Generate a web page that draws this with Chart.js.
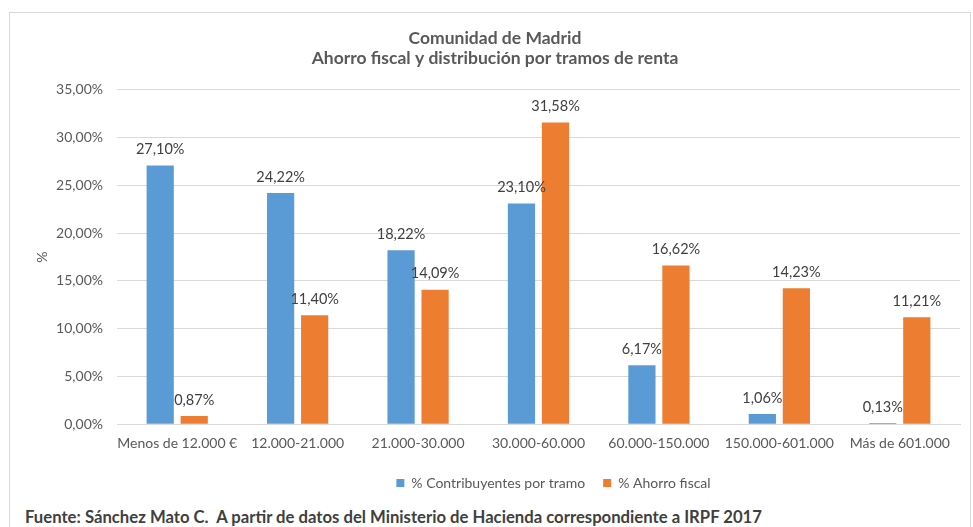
<!DOCTYPE html>
<html>
<head>
<meta charset="utf-8">
<script src="https://cdn.jsdelivr.net/npm/chart.js@4"></script>
<style>
  body { margin: 0; background: #fff; }
  #wrap { position: relative; width: 973px; height: 527px; overflow: hidden; }
  #marco { position: absolute; left: 9px; top: 12px; width: 962px; height: 530px; border: 1px solid #d9d9d9; box-sizing: border-box; }
  #fuente { position: absolute; left: 25px; top: 507px; font: bold 16.7px Lato, sans-serif; color: #404040; white-space: nowrap; }
</style>
</head>
<body>
<div id="wrap">
  <div id="marco"></div>
  <canvas id="grafico" width="973" height="505" style="position:absolute;left:0;top:0"></canvas>
  <div id="fuente">Fuente: Sánchez Mato C.&nbsp; A partir de datos del Ministerio de Hacienda correspondiente a IRPF 2017</div>
</div>
<script>
// datos del gráfico
var tramos = ["Menos de 12.000 €", "12.000-21.000", "21.000-30.000", "30.000-60.000", "60.000-150.000", "150.000-601.000", "Más de 601.000"];
var contribuyentes = [27.10, 24.22, 18.22, 23.10, 6.17, 1.06, 0.13];
var ahorro = [0.87, 11.40, 14.09, 31.58, 16.62, 14.23, 11.21];
var tituloLineas = ["Comunidad de Madrid", "Ahorro fiscal y distribución por tramos de renta"];

function fmt(v) {
  return v.toFixed(2).replace('.', ',') + '%';
}

// etiquetas encima de cada barra
const etiquetas = {
  id: 'etiquetas',
  afterDatasetsDraw(chart) {
    const ctx = chart.ctx;
    ctx.save();
    ctx.font = '14.5px Lato, sans-serif';
    ctx.fillStyle = '#404040';
    ctx.textAlign = 'center';
    ctx.textBaseline = 'middle';
    chart.data.datasets.forEach((ds, i) => {
      chart.getDatasetMeta(i).data.forEach((bar, j) => {
        ctx.fillText(fmt(ds.data[j]), bar.x, bar.y - 16);
      });
    });
    ctx.restore();
  }
};

// centrar la leyenda respecto al área del gráfico
const leyendaCentro = {
  id: 'leyendaCentro',
  afterLayout(chart) {
    chart.legend.left = chart.chartArea.left;
    chart.legend.right = chart.chartArea.right + 30;
  }
};

new Chart(document.getElementById("grafico"), {
  type: 'bar',
  data: {
    labels: tramos,
    datasets: [
      {
        label: "% Contribuyentes por tramo",
        backgroundColor: "#5B9BD5",
        data: contribuyentes,
        barPercentage: 0.8,
        categoryPercentage: 0.565
      }, {
        label: "% Ahorro fiscal",
        backgroundColor: "#ED7D31",
        data: ahorro,
        barPercentage: 0.8,
        categoryPercentage: 0.565
      }
    ]
  },
  options: {
    responsive: false,
    animation: false,
    layout: { padding: { left: 30, right: 13, top: 28, bottom: 5 } },
    plugins: {
      title: {
        display: true,
        text: tituloLineas,
        color: '#595959',
        font: { family: 'Lato', size: 17.5, weight: 'bold', lineHeight: 1.17 },
        padding: { top: 0, bottom: 21 }
      },
      legend: {
        position: 'bottom',
        labels: {
          color: '#595959',
          font: { family: 'Lato', size: 14 },
          boxWidth: 8,
          boxHeight: 8,
          padding: 18
        }
      },
      tooltip: { enabled: false }
    },
    scales: {
      x: {
        afterFit(scale) { scale.height += 3; },
        grid: { display: false },
        border: { color: '#d9d9d9' },
        ticks: { color: '#595959', font: { family: 'Lato', size: 14 }, padding: 3, maxRotation: 0, autoSkip: false }
      },
      y: {
        min: 0,
        max: 35,
        afterFit(scale) { scale.width = 87; },
        border: { display: false },
        grid: { color: '#d9d9d9', drawTicks: false },
        ticks: {
          stepSize: 5,
          color: '#595959',
          font: { family: 'Lato', size: 14 },
          padding: 14,
          callback: (v) => fmt(v)
        },
        title: {
          display: true,
          text: '%',
          color: '#595959',
          font: { family: 'Lato', size: 14 },
          padding: { top: 4, bottom: 0 }
        }
      }
    }
  },
  plugins: [etiquetas, leyendaCentro]
});
</script>
</body>
</html>
